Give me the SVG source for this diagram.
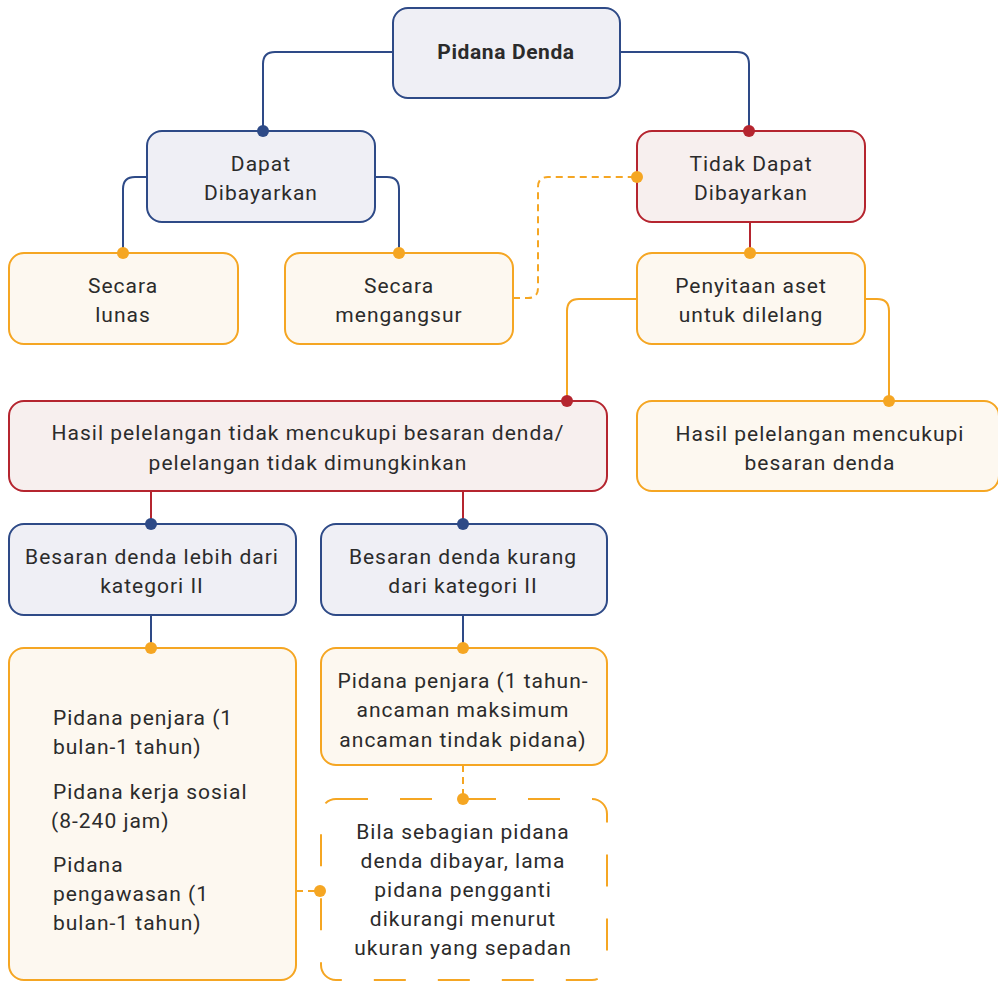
<svg xmlns="http://www.w3.org/2000/svg" width="998" height="982" viewBox="0 0 998 982">
<style>
.t{font-family:Roboto,"Liberation Sans",sans-serif;font-size:21px;letter-spacing:1px;fill:#2b2b2b;text-anchor:middle}
.l{text-anchor:start}
.b{font-weight:bold;letter-spacing:0.6px}
.nv{fill:#efeff5;stroke:#2e4a87;stroke-width:2}
.rd{fill:#f7efee;stroke:#b5252f;stroke-width:2}
.or{fill:#fdf8f0;stroke:#f5a623;stroke-width:2}
.ord{fill:#ffffff;stroke:#f5a623;stroke-width:2;stroke-dasharray:32 32}
.cn{fill:none;stroke:#2e4a87;stroke-width:2}
.cr{fill:none;stroke:#b5252f;stroke-width:2}
.co{fill:none;stroke:#f5a623;stroke-width:2}
.cd{fill:none;stroke:#f5a623;stroke-width:2;stroke-dasharray:7 5}
.dn{fill:#2e4a87}.dr{fill:#b5252f}.do{fill:#f5a623}
</style>
<rect width="998" height="982" fill="#ffffff"/>
<g id="connectors">
<path class="cn" d="M393,52 H275 Q263,52 263,64 V131"/>
<path class="cn" d="M620,52 H737 Q749,52 749,64 V131"/>
<path class="cn" d="M147,177 H135 Q123,177 123,189 V253"/>
<path class="cn" d="M375,177 H387 Q399,177 399,189 V253"/>
<path class="cd" d="M513,298 H528 Q538,298 538,288 V187 Q538,177 548,177 H637"/>
<path class="cr" d="M750,222 V253"/>
<path class="co" d="M637,299 H579 Q567,299 567,311 V401"/>
<path class="co" d="M865,299 H877 Q889,299 889,311 V401"/>
<path class="cr" d="M151,491 V524"/>
<path class="cr" d="M463,491 V524"/>
<path class="cn" d="M151,615 V648"/>
<path class="cn" d="M463,615 V648"/>
<path class="cd" d="M463,765 V799"/>
<path class="cd" d="M296,891 H320"/>
</g>
<g id="n-pidana-denda">
<rect class="nv" x="393" y="8" width="227" height="90" rx="15"/>
<text class="t b" x="506" y="59">Pidana Denda</text>
</g>
<g id="n-dapat">
<rect class="nv" x="147" y="131" width="228" height="91" rx="15"/>
<text class="t" x="261" y="171">Dapat</text>
<text class="t" x="261" y="200">Dibayarkan</text>
</g>
<g id="n-tidak-dapat">
<rect class="rd" x="637" y="131" width="228" height="91" rx="15"/>
<text class="t" x="751" y="171">Tidak Dapat</text>
<text class="t" x="751" y="200">Dibayarkan</text>
</g>
<g id="n-lunas">
<rect class="or" x="9" y="253" width="229" height="91" rx="15"/>
<text class="t" x="123" y="293">Secara</text>
<text class="t" x="123" y="322">lunas</text>
</g>
<g id="n-mengangsur">
<rect class="or" x="285" y="253" width="228" height="91" rx="15"/>
<text class="t" x="399" y="293">Secara</text>
<text class="t" x="399" y="322">mengangsur</text>
</g>
<g id="n-penyitaan">
<rect class="or" x="637" y="253" width="228" height="91" rx="15"/>
<text class="t" x="751" y="293">Penyitaan aset</text>
<text class="t" x="751" y="322">untuk dilelang</text>
</g>
<g id="n-tidak-mencukupi">
<rect class="rd" x="9" y="401" width="598" height="90" rx="15"/>
<text class="t" x="308" y="440">Hasil pelelangan tidak mencukupi besaran denda/</text>
<text class="t" x="308" y="470">pelelangan tidak dimungkinkan</text>
</g>
<g id="n-mencukupi">
<rect class="or" x="637" y="401" width="362" height="90" rx="15"/>
<text class="t" x="820" y="441">Hasil pelelangan mencukupi</text>
<text class="t" x="820" y="470">besaran denda</text>
</g>
<g id="n-lebih">
<rect class="nv" x="9" y="524" width="287" height="91" rx="15"/>
<text class="t" x="152" y="564">Besaran denda lebih dari</text>
<text class="t" x="152" y="593">kategori II</text>
</g>
<g id="n-kurang">
<rect class="nv" x="321" y="524" width="286" height="91" rx="15"/>
<text class="t" x="463" y="564">Besaran denda kurang</text>
<text class="t" x="463" y="593">dari kategori II</text>
</g>
<g id="n-pidana-list">
<rect class="or" x="9" y="648" width="287" height="332" rx="15"/>
<text class="t l" x="53" y="725">Pidana penjara (1</text>
<text class="t l" x="53" y="754">bulan-1 tahun)</text>
<text class="t l" x="53" y="799">Pidana kerja sosial</text>
<text class="t l" x="51" y="828">(8-240 jam)</text>
<text class="t l" x="53" y="872">Pidana</text>
<text class="t l" x="53" y="901">pengawasan (1</text>
<text class="t l" x="53" y="930">bulan-1 tahun)</text>
</g>
<g id="n-penjara-tahun">
<rect class="or" x="321" y="648" width="286" height="117" rx="15"/>
<text class="t" x="463" y="688">Pidana penjara (1 tahun-</text>
<text class="t" x="463" y="717">ancaman maksimum</text>
<text class="t" x="463" y="747">ancaman tindak pidana)</text>
</g>
<g id="n-bila">
<rect class="ord" x="321" y="799" width="286" height="181" rx="15"/>
<text class="t" x="463" y="839">Bila sebagian pidana</text>
<text class="t" x="463" y="868">denda dibayar, lama</text>
<text class="t" x="463" y="897">pidana pengganti</text>
<text class="t" x="463" y="926">dikurangi menurut</text>
<text class="t" x="463" y="955">ukuran yang sepadan</text>
</g>
<g id="dots">
<circle class="dn" cx="263" cy="131" r="6"/>
<circle class="dr" cx="749" cy="131" r="6"/>
<circle class="do" cx="123" cy="253" r="6"/>
<circle class="do" cx="399" cy="253" r="6"/>
<circle class="do" cx="637" cy="177" r="6"/>
<circle class="do" cx="750" cy="253" r="6"/>
<circle class="dr" cx="567" cy="401" r="6"/>
<circle class="do" cx="889" cy="401" r="6"/>
<circle class="dn" cx="151" cy="524" r="6"/>
<circle class="dn" cx="463" cy="524" r="6"/>
<circle class="do" cx="151" cy="648" r="6"/>
<circle class="do" cx="463" cy="648" r="6"/>
<circle class="do" cx="463" cy="799" r="6"/>
<circle class="do" cx="320" cy="891" r="6"/>
</g>
</svg>
